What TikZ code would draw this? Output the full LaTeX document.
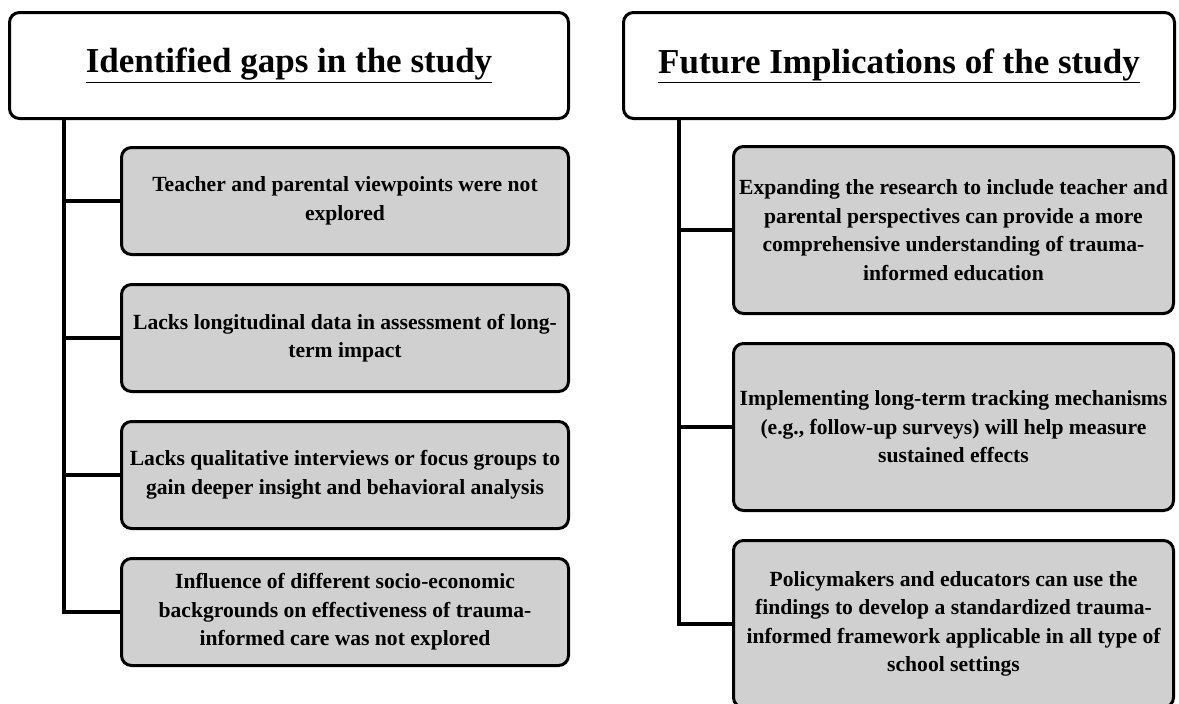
\documentclass[tikz,border=0pt]{standalone}
\usepackage{fontspec}
\setmainfont{Liberation Serif}
\usetikzlibrary{positioning}
\definecolor{cG}{RGB}{208,208,208}
\tikzset{myhead/.style={
  shape=rectangle,
  draw=black,
  fill=white,
  line width=3pt,
  rounded corners=10pt,
  minimum height=106pt,
  align=center,
  font=\bfseries\fontsize{35}{40}\selectfont,
  }
}
\tikzset{mybox/.style={
  shape=rectangle,
  draw=black,
  fill=cG,
  line width=3pt,
  rounded corners=10pt,
  inner sep=4pt,
  align=center,
  font=\bfseries\fontsize{21.6}{28.5}\selectfont,
  }
}
\tikzset{mytrunk/.style={
  draw=black,
  line width=3.5pt,
  }
}

\begin{document}
\begin{tikzpicture}[x=1pt,y=1pt]
  \useasboundingbox (0,0) rectangle (1179,-704);

  \node [myhead, minimum width=559pt] (hL) at (289,-65.5) {\underline{Identified gaps in the study}};
  \node [myhead, minimum width=551pt, right =52pt of hL] (hR) {\underline{Future Implications of the study}};

  \node [mybox, minimum width=447pt, minimum height=107pt, below right =26pt and 112pt of hL.south west] (l1)
    {Teacher and parental viewpoints were not\\explored};
  \node [mybox, minimum width=447pt, minimum height=107pt, below =27pt of l1] (l2)
    {Lacks longitudinal data in assessment of long-\\term impact};
  \node [mybox, minimum width=447pt, minimum height=107pt, below =27pt of l2] (l3)
    {Lacks qualitative interviews or focus groups to\\gain deeper insight and behavioral analysis};
  \node [mybox, minimum width=447pt, minimum height=107pt, below =27pt of l3] (l4)
    {Influence of different socio-economic\\backgrounds on effectiveness of trauma-\\informed care was not explored};

  \node [mybox, minimum width=440pt, minimum height=167pt, below right =25pt and 110pt of hR.south west] (r1)
    {Expanding the research to include teacher and\\parental perspectives can provide a more\\comprehensive understanding of trauma-\\informed education};
  \node [mybox, minimum width=440pt, minimum height=167pt, below =27pt of r1] (r2)
    {Implementing long-term tracking mechanisms\\(e.g., follow-up surveys) will help measure\\sustained effects};
  \node [mybox, minimum width=440pt, minimum height=167pt, below =27pt of r2] (r3)
    {Policymakers and educators can use the\\findings to develop a standardized trauma-\\informed framework applicable in all type of\\school settings};

  % trunks
  \coordinate (tL) at ([xshift=56pt]hL.south west);
  \coordinate (tR) at ([xshift=57pt]hR.south west);
  \draw [mytrunk] (tL) |- (l4.west);
  \draw [mytrunk] (tR) |- (r3.west);
  \foreach \b in {l1,l2,l3}
    \draw [mytrunk] (tL |- \b.west) -- (\b.west);
  \foreach \b in {r1,r2}
    \draw [mytrunk] (tR |- \b.west) -- (\b.west);
\end{tikzpicture}
\end{document}
